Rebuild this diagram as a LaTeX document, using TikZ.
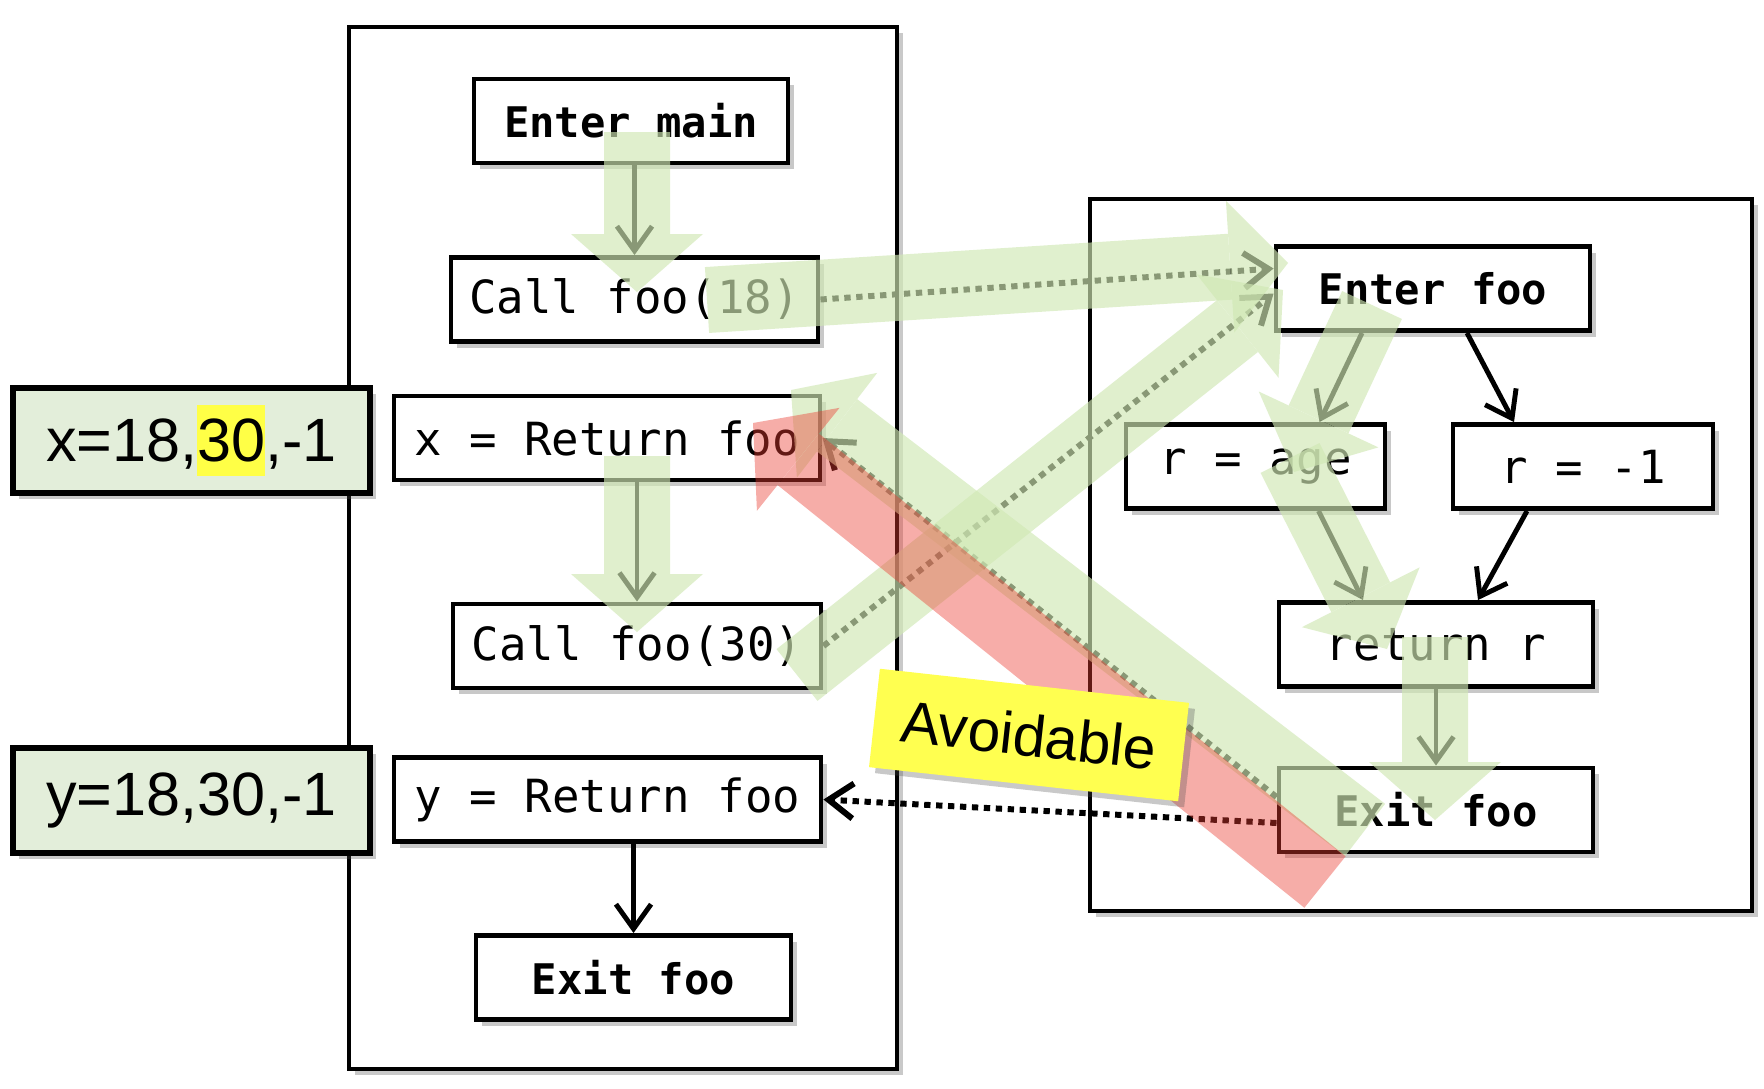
\documentclass[tikz,border=0pt]{standalone}
\usepackage{fontspec}
\setmonofont{DejaVu Sans Mono}
\newfontfamily\labelfont{Liberation Sans}
\usetikzlibrary{arrows.meta,shadows}

\definecolor{bandgreen}{RGB}{208,232,180}
\definecolor{bandred}{RGB}{235,60,50}
\definecolor{valgreen}{RGB}{227,238,218}
\definecolor{hlyellow}{RGB}{255,255,70}
\definecolor{notegold}{RGB}{255,255,80}

\newcommand\stmtfont{\fontsize{13pt}{15pt}\selectfont\ttfamily}
\newcommand\entryfont{\fontsize{12pt}{14pt}\selectfont\ttfamily\bfseries}
\newcommand\valfont{\labelfont\fontsize{17.4pt}{20pt}\selectfont}
\newcommand\notefont{\labelfont\fontsize{16.7pt}{19pt}\selectfont}
\newcommand\hlnum[1]{{\setlength\fboxsep{0pt}\colorbox{hlyellow}{\rule[-0.23em]{0pt}{1.15em}#1}}}

\tikzset{
  softshadow/.style={drop shadow={shadow xshift=0.6mm,shadow yshift=-0.6mm,opacity=0.3,fill=black!70}},
  container/.style={draw,line width=1.1pt,fill=white,softshadow},
  stmt/.style={draw,line width=1.4pt,fill=white,softshadow,minimum height=0.84cm,inner sep=0pt,font=\stmtfont},
  entry/.style={stmt,font=\entryfont},
  valbox/.style={draw,line width=1.7pt,fill=valgreen,softshadow,minimum width=3.57cm,minimum height=1.05cm,inner sep=0pt,font=\valfont},
  flow/.style={line width=1.4pt,-{Straight Barb[length=7pt,width=10pt]}},
  jump/.style={flow,line width=1.7pt,dash pattern=on 1.8pt off 1.6pt},
  band/.style={line width=0.66cm,-{Triangle[width=1.32cm,length=0.58cm,line width=0pt]}},
  bandgroup/.style={transparency group,opacity=0.66},
  redgroup/.style={transparency group,opacity=0.42},
}

\begin{document}
\begin{tikzpicture}[x=1cm,y=-1cm]
\useasboundingbox (0,0) rectangle (17.64,10.88);

% the two procedures
\draw[container] (3.49,0.27) rectangle (8.97,10.69);
\draw[container] (10.90,1.99) rectangle (17.52,9.11);

\node[entry,minimum width=3.14cm] (emain) at (6.31,1.21) {Enter main};
\node[stmt,minimum width=3.67cm] (c18) at (6.345,2.995) {Call foo(18)};
\node[stmt,minimum width=4.26cm] (xret) at (6.07,4.38) {x = Return foo};
\node[stmt,minimum width=3.68cm] (c30) at (6.37,6.46) {Call foo(30)};
\node[stmt,minimum width=4.27cm] (yret) at (6.075,7.995) {y = Return foo};
\node[entry,minimum width=3.15cm] (lexit) at (6.335,9.775) {Exit foo};

\node[entry,minimum width=3.14cm] (efoo) at (14.33,2.885) {Enter foo};
\node[stmt,minimum width=2.59cm] (rage) at (12.555,4.665) {r = age};
\node[stmt,minimum width=2.60cm] (rm1) at (15.83,4.665) {r = -1};
\node[stmt,minimum width=3.14cm] (ret) at (14.36,6.445) {return r};
\node[entry,minimum width=3.14cm] (rexit) at (14.36,8.10) {Exit foo};

% control flow
\draw[flow] (c18.north |- emain.south) -- (c18.north);
\draw[flow] (c30.north |- xret.south) -- (c30.north);
\draw[flow] (lexit.north |- yret.south) -- (lexit.north);
\draw[flow] ([xshift=-7.1mm]efoo.south) -- ([xshift=6.4mm]rage.north);
\draw[flow] ([xshift=3.4mm]efoo.south) -- ([xshift=-6.9mm]rm1.north);
\draw[flow] ([xshift=6.3mm]rage.south) -- ([xshift=-7.3mm]ret.north);
\draw[flow] ([xshift=-5.6mm]rm1.south) -- ([xshift=4.2mm]ret.north);
\draw[flow] (ret) -- (rexit);

% calls and returns
\draw[jump] (c18.east) -- ([yshift=2mm]efoo.west);
\draw[jump] (c30.east) -- ([yshift=-0.5mm]efoo.west);
\draw[jump] ([yshift=1.3mm]rexit.west) -- (xret.east);
\draw[jump] ([yshift=-1.3mm]rexit.west) -- (yret.east);

\node[valbox] (xval) at (1.915,4.405) {x=18,\hlnum{30},-1};
\node[valbox] (yval) at (1.915,8.00) {y=18,30,-1};

% highlighted paths
\coordinate (g1s) at (6.37,1.32);  \coordinate (g1t) at (6.37,2.92);
\coordinate (g2s) at (7.07,3.00);  \coordinate (g2t) at (12.88,2.63);
\coordinate (g3s) at (13.72,3.05); \coordinate (g3t) at (12.94,4.72);
\coordinate (g4s) at (12.90,4.58); \coordinate (g4t) at (13.87,6.49);
\coordinate (g5s) at (14.35,6.37); \coordinate (g5t) at (14.35,8.20);
\coordinate (g6s) at (13.65,8.30); \coordinate (g6t) at (7.91,3.90);
\coordinate (g7s) at (6.37,4.56);  \coordinate (g7t) at (6.37,6.32);
\coordinate (g8s) at (7.97,6.75);  \coordinate (g8t) at (12.83,2.90);
\coordinate (rs) at (13.25,8.82);  \coordinate (rt) at (7.53,4.23);

\scoped[bandgroup] \draw[band,bandgreen] (g1s) -- (g1t);
\scoped[bandgroup] \draw[band,bandgreen] (g2s) -- (g2t);
\scoped[bandgroup] \draw[band,bandgreen] (g3s) -- (g3t);
\scoped[bandgroup] \draw[band,bandgreen] (g4s) -- (g4t);
\scoped[bandgroup] \draw[band,bandgreen] (g5s) -- (g5t);
\scoped[bandgroup] \draw[band,bandgreen] (g6s) -- (g6t);
\scoped[bandgroup] \draw[band,bandgreen] (g7s) -- (g7t);
\scoped[bandgroup] \draw[band,bandgreen] (g8s) -- (g8t);
\scoped[redgroup] \draw[band,bandred] (rs) -- (rt);

\node[fill=notegold,softshadow,rotate=-6.3,minimum width=3.11cm,minimum height=0.99cm,inner sep=0pt,font=\notefont] (avoid) at (10.29,7.35) {Avoidable};

\end{tikzpicture}
\end{document}
